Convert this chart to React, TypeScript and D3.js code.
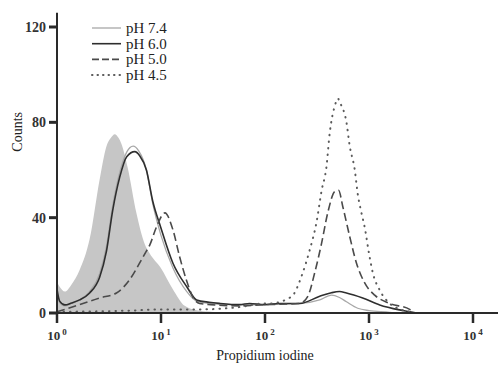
import * as d3 from 'd3'
import { useEffect, useRef } from 'react'

// [propidium iodine intensity, counts]
const control: [number, number][] = [
  [1, 13], [1.06, 11], [1.19, 9], [1.38, 12], [1.65, 18], [2.06, 31], [2.57, 56],
  [2.99, 70], [3.3, 73.5], [3.59, 75], [3.9, 73.5], [4.16, 71], [4.78, 61],
  [5.8, 42], [6.97, 29], [7.79, 25], [9.93, 19], [13.0, 10], [16.9, 3],
  [22, 1.2], [29, 0.6], [37, 0],
]
const ph74: [number, number][] = [
  [1, 9], [1.06, 4.5], [1.19, 3], [1.38, 4], [1.65, 5.5], [2.06, 9], [2.57, 16.5],
  [2.99, 28], [3.43, 45], [4.01, 59], [4.68, 67.5], [5.4, 70], [6.1, 68],
  [7.24, 60], [8.32, 46], [9.93, 33], [13.0, 19], [17.7, 9], [22, 5], [29, 4],
  [37, 3.6], [57, 3.4], [99, 3.5], [138, 3.8], [216, 4], [336, 5.5], [435, 7.5],
  [520, 6.5], [607, 4.7], [779, 2], [1000, 1], [1580, 0.3], [1800, 0],
]
const ph60: [number, number][] = [
  [1, 10], [1.06, 5], [1.19, 3.4], [1.38, 4.2], [1.65, 5.5], [2.06, 8.4], [2.57, 15],
  [2.99, 26], [3.43, 43], [4.01, 57], [4.68, 65.6], [5.6, 67.7], [6.24, 66],
  [7.24, 60], [8.32, 47], [9.93, 36], [13.0, 21], [17.7, 11], [22, 5.5], [29, 4.5],
  [37, 4], [57, 3.5], [71, 4], [99, 3.5], [138, 4], [216, 4], [336, 7], [435, 8.5],
  [520, 9], [607, 8.4], [870, 6.3], [1268, 3.4], [1972, 1.3], [2630, 0.3], [2800, 0],
]
const ph50: [number, number][] = [
  [1, 0.5], [1.19, 1.5], [1.65, 3.5], [2.57, 6.3], [3.73, 8.4], [5.0, 14], [6.24, 21],
  [7.24, 26], [7.79, 28.5], [9.03, 36], [10.9, 42], [13.0, 35], [15.1, 23.6],
  [17.5, 14], [20.2, 6.8], [23.5, 4], [30, 3.5], [57, 3], [99, 3.5], [216, 4],
  [258, 7], [301, 17], [349, 29], [401, 42], [469, 51], [510, 51.5], [560, 44.6],
  [653, 32], [757, 21], [909, 12.6], [1135, 7.5], [1581, 4], [2460, 1.5], [2750, 0],
]
const ph45: [number, number][] = [
  [1, 0.5], [5, 1], [10, 1.5], [23.5, 1.5], [57, 2.5], [99, 4], [111, 4], [179, 6.8],
  [231, 17], [269, 26.4], [312, 37.8], [351, 51.6], [389, 61], [419, 75.5],
  [470, 87], [501, 90], [530, 88], [607, 80], [653, 70], [730, 60], [779, 50],
  [846, 42], [909, 36], [1000, 25], [1086, 17], [1268, 9.6], [1581, 4], [2000, 1.5],
  [2460, 0.5], [2700, 0],
]

const legendLabels = ['pH 7.4', 'pH 6.0', 'pH 5.0', 'pH 4.5']
const yTicks = [0, 40, 80, 120]
const xTicks = [1, 10, 100, 1000, 10000]

const styles = [
  { data: ph74, color: '#a8a8a8', width: 1.3, dash: '' },
  { data: ph60, color: '#2e2e2e', width: 1.6, dash: '' },
  { data: ph50, color: '#4a4a4a', width: 1.6, dash: '8,4' },
  { data: ph45, color: '#5a5a5a', width: 2, dash: '0.5,6' },
]

const App = () => {
  const ref = useRef<SVGSVGElement>(null)

  useEffect(() => {
    const svg = d3.select(ref.current)
    svg.selectAll('*').remove()
    const W = 498
    const font = "'Liberation Serif', 'DejaVu Serif', serif"

    const x = d3.scaleLog().domain([1, 10000]).range([57, 473])
    const y = d3.scaleLinear().domain([0, 120]).range([313, 27])

    const area = d3
      .area<[number, number]>()
      .x((d) => x(d[0]))
      .y0(y(0))
      .y1((d) => y(d[1]))
      .curve(d3.curveMonotoneX)
    const line = d3
      .line<[number, number]>()
      .x((d) => x(d[0]))
      .y((d) => y(d[1]))
      .curve(d3.curveMonotoneX)

    svg.append('path').attr('d', area(control)).attr('fill', '#c6c6c6')

    styles.forEach((s) => {
      svg
        .append('path')
        .attr('d', line(s.data))
        .attr('fill', 'none')
        .attr('stroke', s.color)
        .attr('stroke-width', s.width)
        .attr('stroke-dasharray', s.dash || null)
        .attr('stroke-linecap', s.dash.startsWith('0.5') ? 'round' : 'butt')
    })

    // axes
    const axisColor = '#2a2a2a'
    svg
      .append('line')
      .attr('x1', x(1)).attr('x2', W)
      .attr('y1', y(0)).attr('y2', y(0))
      .attr('stroke', axisColor).attr('stroke-width', 2)
    svg
      .append('line')
      .attr('x1', x(1)).attr('x2', x(1))
      .attr('y1', y(0)).attr('y2', y(126))
      .attr('stroke', axisColor).attr('stroke-width', 2)

    yTicks.forEach((t) => {
      svg
        .append('line')
        .attr('x1', x(1) - 8).attr('x2', x(1))
        .attr('y1', y(t)).attr('y2', y(t))
        .attr('stroke', axisColor).attr('stroke-width', 3)
      svg
        .append('text')
        .attr('x', x(1) - 11)
        .attr('y', y(t) + 5)
        .attr('text-anchor', 'end')
        .attr('font-family', font)
        .attr('font-size', 14)
        .attr('font-weight', 'bold')
        .attr('fill', '#333')
        .text(t)
    })

    xTicks.forEach((t) => {
      svg
        .append('line')
        .attr('x1', x(t)).attr('x2', x(t))
        .attr('y1', y(0)).attr('y2', y(0) + 10)
        .attr('stroke', axisColor).attr('stroke-width', 2.5)
      const txt = svg
        .append('text')
        .attr('x', x(t))
        .attr('y', 340)
        .attr('text-anchor', 'middle')
        .attr('font-family', font)
        .attr('font-size', 13)
        .attr('font-weight', 'bold')
        .attr('fill', '#333')
      txt.append('tspan').text('10')
      txt
        .append('tspan')
        .attr('dx', 2)
        .attr('dy', -5)
        .attr('font-size', 9)
        .text(Math.round(Math.log10(t)))
    })

    svg
      .append('text')
      .attr('x', x(100))
      .attr('y', 360)
      .attr('text-anchor', 'middle')
      .attr('font-family', font)
      .attr('font-size', 14)
      .attr('fill', '#222')
      .text('Propidium iodine')

    svg
      .append('text')
      .attr('transform', 'translate(22,' + y(76) + ') rotate(-90)')
      .attr('text-anchor', 'middle')
      .attr('font-family', font)
      .attr('font-size', 14)
      .attr('fill', '#222')
      .text('Counts')

    // legend
    legendLabels.forEach((lbl, i) => {
      const s = styles[i]
      const ly = 28 + i * 15.7
      svg
        .append('line')
        .attr('x1', 92).attr('x2', 121)
        .attr('y1', ly).attr('y2', ly)
        .attr('stroke', s.color)
        .attr('stroke-width', s.width)
        .attr('stroke-dasharray', s.dash ? (i === 3 ? '0.5,5' : '7,3') : null)
        .attr('stroke-linecap', i === 3 ? 'round' : 'butt')
      svg
        .append('text')
        .attr('x', 126)
        .attr('y', ly + 5)
        .attr('font-family', font)
        .attr('font-size', 15)
        .attr('fill', '#222')
        .text(lbl)
    })
  }, [])

  return (
    <svg
      ref={ref}
      width={498}
      height={366}
      style={{ position: 'absolute', left: 0, top: 0, background: '#fff' }}
    />
  )
}

export default App
